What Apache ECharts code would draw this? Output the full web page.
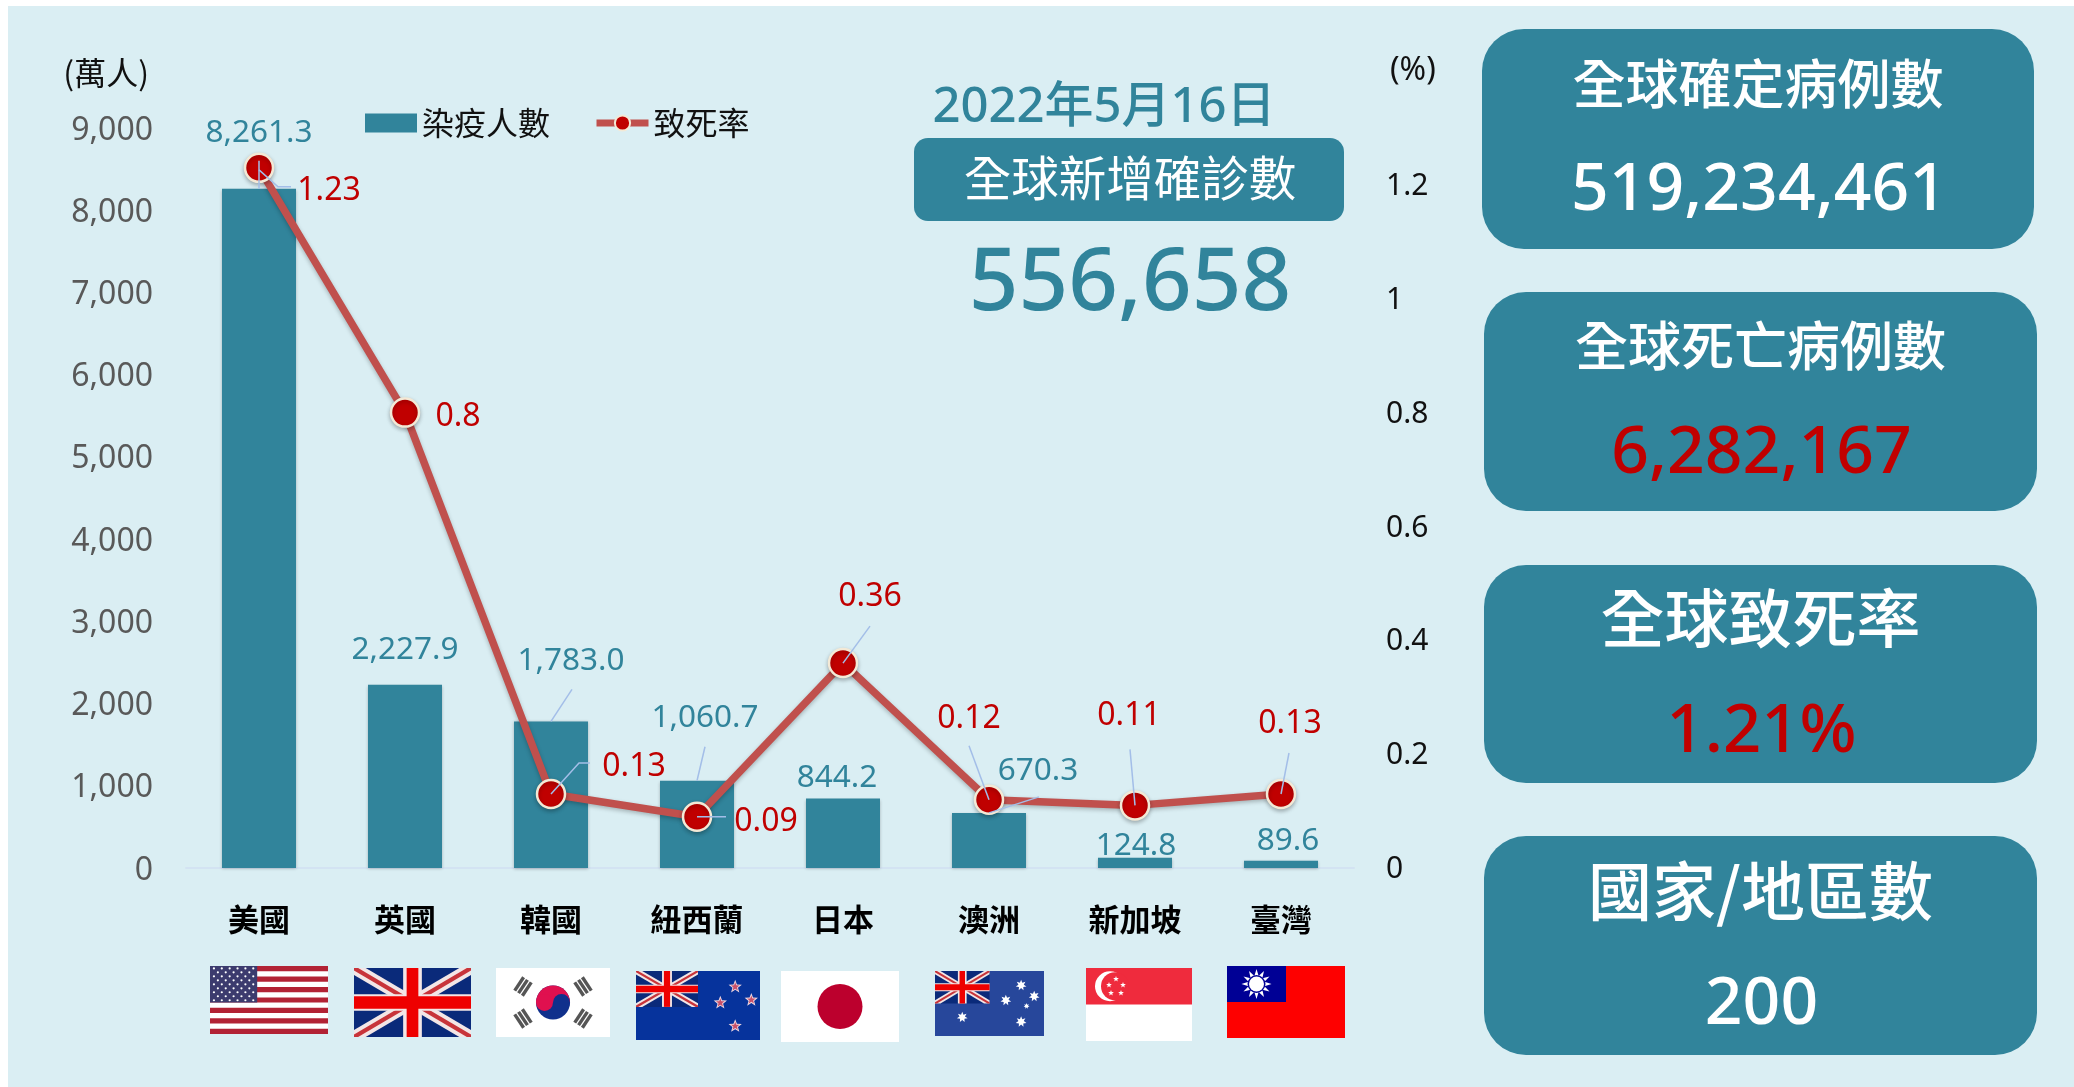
<!DOCTYPE html>
<html>
<head>
<meta charset="utf-8">
<title>全球新增確診數</title>
<script src="https://cdn.jsdelivr.net/npm/echarts@6/dist/echarts.min.js"></script>
<style>
  html, body { margin: 0; padding: 0; background: #fff; }
  #chart { width: 2074px; height: 1087px; }
</style>
</head>
<body>
<div id="chart"></div>
<script>
// 資料
const categories = ['美國', '英國', '韓國', '紐西蘭', '日本', '澳洲', '新加坡', '臺灣'];
const cases = [8261.3, 2227.9, 1783.0, 1060.7, 844.2, 670.3, 124.8, 89.6];
const fatality = [1.23, 0.8, 0.13, 0.09, 0.36, 0.12, 0.11, 0.13];
const leftTicksMax = 9000;
const rightTicksMax = 1.3;
const cardTitles = ['全球確定病例數', '全球死亡病例數', '全球致死率', '國家/地區數'];
const cardValues = ['519,234,461', '6,282,167', '1.21%', '200'];
const headline = ['2022年5月16日', '全球新增確診數', '556,658'];

// 標籤位置
const caseOffsets = [[0, -35], [0, -14], [20, -40], [8, -42], [-6, 0], [49, -21], [1, 9], [7, 1]];
const rateOffsets = [[70, 23], [53, 4], [83, -27], [69, 5], [27, -66], [-20, -81], [-6, -89], [9, -70]];
const caseLeaders = [[[0, -28], [0, 0]], [], [[0, 0], [21, -32]], [[0, 0], [8, -34]], [], [[0, 0], [50, -16]], [], []];
const rateLeaders = [[[0, 2], [19, 19], [32, 19]], [], [[0, 0], [28, -31], [39, -31]], [[0, 0], [29, 0]], [[0, 0], [27, -37]], [[0, 0], [-20, -54]], [[0, 0], [-5, -56]], [[0, 0], [8, -41]]];

const teal = '#31849B';
const darkRed = '#C00000';
const cjk = '"Noto Sans CJK TC"';
const latin = '"Noto Sans", "Noto Sans CJK TC"';

// 畫圖小工具
const rect = (x, y, w, h, fill, extra) => ({ type: 'rect', silent: true, shape: Object.assign({ x, y, width: w, height: h }, extra), style: { fill } });
const circle = (cx, cy, r, fill) => ({ type: 'circle', silent: true, shape: { cx, cy, r }, style: { fill } });
const poly = (points, fill) => ({ type: 'polygon', silent: true, shape: { points }, style: { fill } });
const text = (t, x, y, fill, font) => ({ type: 'text', silent: true, style: { text: t, x, y, fill, font, align: 'center', verticalAlign: 'middle' } });

function star(cx, cy, r, fill, points = 5, inner = 0.42) {
  const pts = [];
  for (let i = 0; i < points * 2; i++) {
    const a = -Math.PI / 2 + i * Math.PI / points;
    const rr = i % 2 ? r * inner : r;
    pts.push([cx + rr * Math.cos(a), cy + rr * Math.sin(a)]);
  }
  return poly(pts, fill);
}

function unionJack(x, y, w, h) {
  const d = (t, flip) => {
    const tx = t * w, ty = t * h;
    const pts = [[0, 0], [tx, 0], [w, h - ty], [w, h], [w - tx, h], [0, ty]];
    return pts.map(p => [x + (flip ? w - p[0] : p[0]), y + p[1]]);
  };
  return [
    rect(x, y, w, h, '#0A2A7A'),
    poly(d(0.1, false), '#F3E6E6'), poly(d(0.1, true), '#F3E6E6'),
    poly(d(0.035, false), '#C8343A'), poly(d(0.035, true), '#C8343A'),
    rect(x + w * 0.42, y, w * 0.16, h, '#F3E6E6'), rect(x, y + h * 0.38, w, h * 0.24, '#F3E6E6'),
    rect(x + w * 0.45, y, w * 0.1, h, '#EE0000'), rect(x, y + h * 0.41, w, h * 0.18, '#EE0000')
  ];
}

function flagUS(x, y, w, h) {
  const els = [rect(x, y, w, h, '#fff')];
  for (let i = 0; i < 13; i += 2) els.push(rect(x, y + i * h / 13, w, h / 13, '#B22234'));
  els.push(rect(x, y, w * 0.4, h * 7 / 13, '#3C3B6E'));
  for (let r = 0; r < 9; r++) {
    const n = r % 2 ? 5 : 6;
    for (let c = 0; c < n; c++) {
      els.push(circle(x + w * 0.4 * (c + (r % 2 ? 1 : 0.5)) / 6, y + (h * 7 / 13) * (r + 0.6) / 9.2, 1.1, '#fff'));
    }
  }
  return els;
}

function flagKR(x, y, w, h) {
  const cx = x + w / 2, cy = y + h / 2, r = 17;
  const els = [
    rect(x, y, w, h, '#fff'),
    circle(cx, cy, r, '#10308C'),
    { type: 'sector', silent: true, shape: { cx, cy, r, startAngle: Math.PI, endAngle: 2 * Math.PI }, style: { fill: '#E0104F' } },
    circle(cx - r / 2, cy, r / 2, '#E0104F'),
    circle(cx + r / 2, cy, r / 2, '#10308C')
  ];
  [[-30, -16, 1], [30, -16, -1], [-30, 16, -1], [30, 16, 1]].forEach(([dx, dy, s]) => {
    for (let i = -1; i <= 1; i++) {
      const a = s * Math.PI / 3.2;
      els.push({
        type: 'rect', silent: true,
        shape: { x: -8, y: -1.7, width: 16, height: 3.4 },
        style: { fill: '#555' },
        x: cx + dx + i * 4.6 * Math.sin(a), y: cy + dy + i * 4.6 * Math.cos(a),
        rotation: a
      });
    }
  });
  return els;
}

function flagNZ(x, y, w, h) {
  const els = [rect(x, y, w, h, '#06339C')].concat(unionJack(x, y, w * 0.5, h * 0.52));
  [[0.8, 0.23], [0.68, 0.46], [0.93, 0.42], [0.8, 0.8]].forEach(([a, b]) => {
    els.push(star(x + w * a, y + h * b, 7, '#F0D8E0'), star(x + w * a, y + h * b, 4.5, '#C8506A'));
  });
  return els;
}

function flagAU(x, y, w, h) {
  const els = [rect(x, y, w, h, '#27479B')].concat(unionJack(x, y, w * 0.5, h * 0.5));
  [[0.79, 0.22], [0.65, 0.45], [0.91, 0.39], [0.84, 0.54], [0.79, 0.78], [0.25, 0.71]].forEach(([a, b], i) => {
    els.push(star(x + w * a, y + h * b, i === 3 ? 3 : 5.5, '#fff', 7, 0.5));
  });
  return els;
}

function flagJP(x, y, w, h) {
  return [rect(x, y, w, h, '#fff'), circle(x + w / 2, y + h / 2, 22.5, '#BC002D')];
}

function flagSG(x, y, w, h) {
  const els = [rect(x, y, w, h, '#fff'), rect(x, y, w, h / 2, '#EF2B3D'),
    circle(x + 24, y + h / 4, 15, '#fff'), circle(x + 29, y + h / 4, 14, '#EF2B3D')];
  [[29, 10], [36, 16], [34, 24], [24, 24], [22, 16]].forEach(([a, b]) => {
    els.push(star(x + a + 1, y + b + 1, 3, '#fff'));
  });
  return els;
}

function flagTW(x, y, w, h) {
  const cx = x + w * 0.25, cy = y + h * 0.25;
  return [
    rect(x, y, w, h, '#FE0000'),
    rect(x, y, w / 2, h / 2, '#000095'),
    star(cx, cy, 15, '#fff', 12, 0.55),
    circle(cx, cy, 9, '#000095'),
    circle(cx, cy, 7.5, '#fff')
  ];
}

const flags = [].concat(
  flagUS(210, 966, 118, 68),
  unionJack(354, 968, 117, 69),
  flagKR(496, 968, 114, 69),
  flagNZ(636, 971, 124, 69),
  flagJP(781, 971, 118, 71),
  flagAU(935, 971, 109, 65),
  flagSG(1086, 968, 106, 73),
  flagTW(1227, 966, 118, 72)
);

// 右側方塊
const cardBoxes = [[1482, 29, 552, 220], [1484, 292, 553, 219], [1484, 565, 553, 218], [1484, 836, 553, 219]];
const cardTitleY = [84, 346, 618, 891];
const cardValueY = [191, 454, 733, 1005];
const cardTitleSize = [53, 53, 64, 64];
const cardValueSize = [66, 66, 67, 66];
const cardValueColor = ['#fff', darkRed, darkRed, '#fff'];

const cards = [];
cardBoxes.forEach((b, i) => {
  cards.push(rect(b[0], b[1], b[2], b[3], teal, { r: 42 }));
  const cx = b[0] + b[2] / 2;
  cards.push(text(cardTitles[i], cx, cardTitleY[i], '#fff', '500 ' + cardTitleSize[i] + 'px ' + cjk));
  cards.push(text(cardValues[i], cx + 1, cardValueY[i], cardValueColor[i], '500 ' + cardValueSize[i] + 'px ' + latin));
});

// 導引線
function leaderSeries(name, yAxisIndex, values, leaders) {
  return {
    name,
    type: 'custom',
    yAxisIndex,
    silent: true,
    z: 6,
    encode: { x: 0, y: 1 },
    data: values.map((v, i) => [i, v]),
    renderItem(params, api) {
      const offsets = leaders[params.dataIndex];
      if (!offsets.length) return null;
      const p = api.coord([api.value(0), api.value(1)]);
      return {
        type: 'polyline',
        shape: { points: offsets.map(o => [p[0] + o[0], p[1] + o[1]]) },
        style: { fill: 'none', stroke: '#A3BEE8', lineWidth: 1.5 }
      };
    }
  };
}

const chart = echarts.init(document.getElementById('chart'));

const option = {
  animation: false,
  backgroundColor: '#fff',
  textStyle: { fontFamily: latin },
  legend: {
    data: [
      { name: '染疫人數', icon: 'rect' },
      { name: '致死率' }
    ],
    left: 360,
    top: 102,
    itemWidth: 52,
    itemHeight: 19,
    itemGap: 43,
    lineStyle: { width: 7 },
    textStyle: { fontFamily: cjk, fontSize: 32, color: '#111' }
  },
  grid: { left: 186, right: 720, top: 128, bottom: 219 },
  xAxis: {
    type: 'category',
    data: categories,
    axisTick: { show: false },
    axisLine: { lineStyle: { color: '#D3E3F2', width: 2 } },
    axisLabel: { color: '#000', fontFamily: cjk, fontSize: 31, fontWeight: 700, margin: 36, interval: 0 }
  },
  yAxis: [
    {
      type: 'value',
      min: 0,
      max: leftTicksMax,
      interval: 1000,
      name: '(萬人)',
      nameLocation: 'end',
      nameGap: 39,
      nameTextStyle: { color: '#111', fontFamily: cjk, fontSize: 32, align: 'right', padding: [0, 37, 0, 0] },
      splitLine: { show: false },
      axisLine: { show: false },
      axisTick: { show: false },
      // 文字往下一點
      axisLabel: { color: '#595959', fontSize: 32, margin: 33, verticalAlign: 'top', lineHeight: 5 }
    },
    {
      type: 'value',
      min: 0,
      max: rightTicksMax,
      interval: 0.2,
      name: '(%)',
      nameLocation: 'end',
      nameGap: 41,
      nameTextStyle: { color: '#111', fontFamily: latin, fontSize: 32, align: 'left', padding: [0, 0, 0, 36] },
      splitLine: { show: false },
      axisLine: { show: false },
      axisTick: { show: false },
      axisLabel: { color: '#111', fontSize: 30, margin: 32, showMaxLabel: false, verticalAlign: 'top', lineHeight: 3 }
    }
  ],
  series: [
    {
      name: '染疫人數',
      type: 'bar',
      barWidth: 74,
      itemStyle: { color: teal, shadowColor: 'rgba(0,0,0,0.25)', shadowBlur: 3, shadowOffsetY: 1 },
      data: cases.map((v, i) => ({
        value: v,
        label: { offset: caseOffsets[i] }
      })),
      label: {
        show: true,
        position: 'top',
        color: teal,
        fontSize: 31.5,
        formatter: p => p.value.toLocaleString('en-US', { minimumFractionDigits: 1 })
      }
    },
    {
      name: '致死率',
      type: 'line',
      yAxisIndex: 1,
      z: 4,
      symbol: 'circle',
      symbolSize: 28,
      lineStyle: { color: '#C0504D', width: 7.5, shadowColor: 'rgba(0,0,0,0.25)', shadowBlur: 4, shadowOffsetY: 2 },
      itemStyle: { color: darkRed, borderColor: '#F3E9D6', borderWidth: 2.5, shadowColor: 'rgba(0,0,0,0.25)', shadowBlur: 4, shadowOffsetY: 2 },
      data: fatality.map((v, i) => ({
        value: v,
        label: { offset: rateOffsets[i] }
      })),
      label: {
        show: true,
        position: 'inside',
        color: darkRed,
        fontSize: 32
      }
    },
    leaderSeries('caseLeader', 0, cases, caseLeaders),
    leaderSeries('rateLeader', 1, fatality, rateLeaders)
  ],
  graphic: {
    elements: [
      Object.assign(rect(8, 6, 2066, 1081, '#DAEEF3'), { z: -10 }),
      text(headline[0], 1104, 108, teal, '500 49px ' + latin),
      rect(914, 138, 430, 83, teal, { r: 14 }),
      text(headline[1], 1130, 178, '#fff', '47.5px ' + cjk),
      text(headline[2], 1130, 285, teal, '500 87px ' + latin)
    ].concat(cards, flags)
  }
};

chart.setOption(option);
</script>
</body>
</html>
